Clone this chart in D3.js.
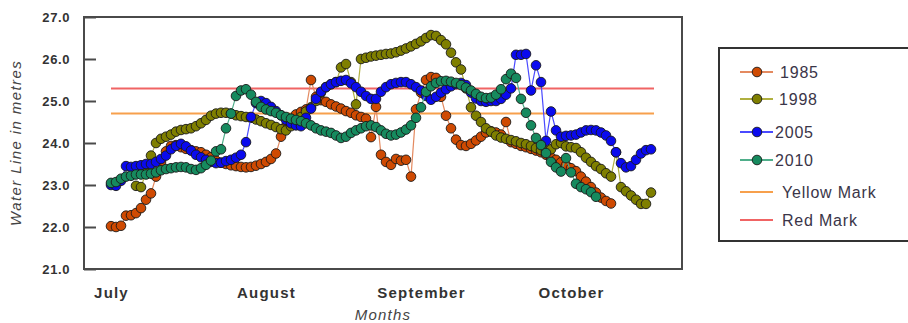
<!DOCTYPE html>
<html>
<head>
<meta charset="utf-8">
<script src="https://cdn.jsdelivr.net/npm/d3@7"></script>
<style>
  html, body { margin: 0; padding: 0; background: #fff; }
  svg { display: block; }
  text { font-family: Arial, "Liberation Sans", sans-serif; }
</style>
</head>
<body>
<svg id="chart" width="908" height="323"></svg>
<script>
// ---- data (daily readings, index 0 = 1 July) ----
const monthLabels = ["July", "August", "September", "October"];
const monthStartDays = [0, 31, 62, 92];
const yTicks = [21, 22, 23, 24, 25, 26, 27];

const seriesNames = ["1985", "1998", "2005", "2010"];

const v1985 = [22.02, 22.0, 22.03, 22.27, 22.28, 22.33, 22.45, 22.65, 22.8, 23.2,
  23.55, 23.8, 23.93, 23.95, 23.9, 23.86, 23.83, 23.8, 23.78, 23.72,
  23.66, 23.58, 23.53, 23.5, 23.47, 23.45, 23.43, 23.42, 23.43, 23.46,
  23.5, 23.55, 23.62, 23.75, 24.15, 24.4, 24.55, 24.68, 24.74, 24.8,
  25.5, 25.1, 25.02, 24.98, 24.92, 24.87, 24.82, 24.76, 24.72, 24.66,
  24.62, 24.58, 24.14, 24.86, 23.72, 23.55, 23.48, 23.62, 23.58, 23.6,
  23.2, 24.8, 25.2, 25.5, 25.57, 25.55, 25.1, 24.65, 24.35, 24.08,
  23.95, 23.93, 23.98, 24.06, 24.15, 24.25, 24.28, 24.25, 24.2, 24.5,
  24.02, 23.98, 23.93, 23.9, 23.86, 23.82, 23.78, 23.72, 23.66, 23.6,
  23.54, 23.47, 23.4, 23.33, 23.2, 23.08, 22.95, 22.82, 22.7, 22.62, 22.56];

const v1998 = [null, null, null, null, null, 22.98, 22.95, 23.3, 23.7, 24.0,
  24.1, 24.15, 24.2, 24.27, 24.31, 24.33, 24.35, 24.4, 24.47, 24.55,
  24.65, 24.7, 24.72, 24.72, 24.7, 24.66, 24.64, 24.62, 24.6, 24.56,
  24.52, 24.47, 24.43, 24.38, 24.33, 24.3, 24.4, 24.5, 24.62, 24.75,
  24.85, 25.0, 25.2, 25.33, 25.4, 25.45, 25.8, 25.88, 25.45, 24.92,
  26.0, 26.03, 26.06, 26.08, 26.1, 26.12, 26.13, 26.16, 26.2, 26.25,
  26.3, 26.36, 26.42, 26.5, 26.57, 26.55, 26.45, 26.35, 26.15, 25.92,
  25.75, 25.3, 24.85, 24.65, 24.5, 24.35, 24.27, 24.18, 24.13, 24.1,
  24.07, 24.04, 24.0, 23.97, 23.93, 23.88, 23.83, 23.8, 23.85, 23.97,
  24.0, 23.92, 23.9, 23.88, 23.78, 23.65, 23.55, 23.45, 23.38, 23.28,
  23.2, 23.78, 22.95, 22.85, 22.75, 22.65, 22.55, 22.55, 22.82];

const v2005 = [23.0, 22.98, 23.1, 23.45, 23.43, 23.45, 23.47, 23.5, 23.5, 23.55,
  23.62, 23.7, 23.85, 23.93, 23.98, 23.92, 23.82, 23.72, 23.66, 23.6,
  23.55, 23.52, 23.53, 23.57, 23.6, 23.65, 23.72, 24.02, 24.62, 24.95,
  25.0, 24.95, 24.86, 24.76, 24.66, 24.55, 24.47, 24.42, 24.4, 24.6,
  24.82, 25.05, 25.22, 25.33, 25.4, 25.45, 25.48, 25.5, 25.42, 25.33,
  25.22, 25.12, 25.05, 25.05, 25.22, 25.33, 25.4, 25.43, 25.45, 25.45,
  25.4, 25.33, 25.25, 25.12, 25.03, 25.1, 25.2, 25.28, 25.35, 25.4,
  25.43, 25.38, 25.2, 25.06, 25.0, 24.98, 25.0, 25.0, 25.05, 25.15,
  25.3, 26.1, 26.1, 26.12, 25.25, 25.85, 25.45, 24.05, 24.75, 24.3,
  24.15, 24.17, 24.18, 24.2, 24.25, 24.3, 24.31, 24.3, 24.25, 24.18,
  24.05, 23.78, 23.52, 23.42, 23.45, 23.6, 23.75, 23.83, 23.85];

const v2010 = [23.05, 23.07, 23.15, 23.2, 23.22, 23.25, 23.25, 23.25, 23.27, 23.3,
  23.35, 23.38, 23.4, 23.42, 23.43, 23.42, 23.38, 23.36, 23.4, 23.48,
  23.58, 23.8, 23.85, 24.35, 24.7, 25.12, 25.25, 25.28, 25.15, 24.98,
  24.86, 24.8, 24.76, 24.72, 24.66, 24.62, 24.58, 24.55, 24.52, 24.47,
  24.42, 24.35, 24.3, 24.27, 24.24, 24.18, 24.12, 24.15, 24.24, 24.3,
  24.35, 24.4, 24.42, 24.38, 24.3, 24.22, 24.18, 24.2, 24.25, 24.32,
  24.42, 24.6, 24.85, 25.22, 25.35, 25.43, 25.47, 25.48, 25.46, 25.43,
  25.38, 25.32, 25.25, 25.17, 25.1, 25.07, 25.08, 25.15, 25.28, 25.52,
  25.65, 25.55, 25.05, 24.72, 24.42, 24.12, 23.95, 23.76, 23.55, 23.42,
  23.32, 23.64, 23.3, 23.03, 22.95, 22.9, 22.83, 22.72];

const yellowMark = 24.7;
const redMark = 25.3;
const markDays = [0, 108.6];

// ---- styling ----
const markerFill = ["#cf4a02", "#7f7f00", "#0a0aee", "#168a5e"];
const lineColor  = ["#e48a60", "#b0b040", "#4a4aff", "#4fae8a"];
const yellowColor = "#f7a04c";
const redColor = "#f06464";

const svg = d3.select("#chart");
const M = { left: 84, right: 682, top: 17, bottom: 269 };

const x = d3.scaleLinear().domain([-5.4, 114.2]).range([M.left, M.right]);
const y = d3.scaleLinear().domain([21, 27]).range([M.bottom, M.top]);

// frame
svg.append("rect")
  .attr("x", M.left).attr("y", M.top)
  .attr("width", M.right - M.left).attr("height", M.bottom - M.top)
  .attr("fill", "#fff").attr("stroke", "#4a4a4a").attr("stroke-width", 2);

// y axis
const yAxis = svg.append("g")
  .attr("transform", `translate(${M.left},0)`)
  .call(d3.axisLeft(y).tickValues(yTicks).tickFormat(d3.format(".1f"))
    .tickSizeInner(-12).tickSizeOuter(0).tickPadding(14));
yAxis.select(".domain").remove();
yAxis.selectAll("line").attr("stroke", "#4a4a4a").attr("stroke-width", 2);
yAxis.selectAll("text")
  .attr("fill", "#333").style("font-size", "13px").style("font-weight", "bold")
  .style("letter-spacing", "0.6px");

// x axis (month labels)
const xAxis = svg.append("g")
  .attr("transform", `translate(0,${M.bottom})`)
  .call(d3.axisBottom(x).tickValues(monthStartDays)
    .tickFormat((d, i) => monthLabels[i]).tickSize(0).tickPadding(18));
xAxis.select(".domain").remove();
xAxis.selectAll("text")
  .attr("fill", "#333").style("font-size", "15px").style("font-weight", "bold")
  .style("letter-spacing", "1.2px");

// axis titles
svg.append("text")
  .attr("x", 383).attr("y", 320)
  .attr("text-anchor", "middle")
  .attr("fill", "#444")
  .style("font-size", "15px").style("font-style", "italic").style("letter-spacing", "1.2px")
  .text("Months");

svg.append("text")
  .attr("transform", "translate(21,143) rotate(-90)")
  .attr("text-anchor", "middle")
  .attr("fill", "#444")
  .style("font-size", "15px").style("font-style", "italic").style("letter-spacing", "1.4px")
  .text("Water Line in metres");

// mark lines
const markLine = d3.line().x(d => x(d[0])).y(d => y(d[1]));
svg.append("path")
  .attr("d", markLine(markDays.map(d => [d, yellowMark])))
  .attr("stroke", yellowColor).attr("stroke-width", 2).attr("fill", "none");
svg.append("path")
  .attr("d", markLine(markDays.map(d => [d, redMark])))
  .attr("stroke", redColor).attr("stroke-width", 2).attr("fill", "none");

// series
const allSeries = [v1985, v1998, v2005, v2010];
const line = d3.line()
  .defined(d => d[1] != null)
  .x(d => x(d[0])).y(d => y(d[1]));

allSeries.forEach((vals, si) => {
  const pts = vals.map((v, i) => [i, v]);
  const g = svg.append("g");
  g.append("path")
    .attr("d", line(pts))
    .attr("fill", "none").attr("stroke", lineColor[si]).attr("stroke-width", 1.2);
  g.selectAll("circle")
    .data(pts.filter(d => d[1] != null))
    .join("circle")
    .attr("cx", d => x(d[0])).attr("cy", d => y(d[1]))
    .attr("r", 4.8)
    .attr("fill", markerFill[si])
    .attr("stroke", "#1a1a1a").attr("stroke-width", 0.9);
});

// legend
const legend = svg.append("g");
legend.append("rect")
  .attr("x", 719).attr("y", 48).attr("width", 200).attr("height", 193)
  .attr("fill", "#fff").attr("stroke", "#333").attr("stroke-width", 2);

const legendItems = [
  { label: "1985", y: 72, color: lineColor[0], fill: markerFill[0], tx: 780 },
  { label: "1998", y: 99, color: lineColor[1], fill: markerFill[1], tx: 779 },
  { label: "2005", y: 132, color: lineColor[2], fill: markerFill[2], tx: 775 },
  { label: "2010", y: 160, color: lineColor[3], fill: markerFill[3], tx: 775 },
  { label: "Yellow Mark", y: 192, color: yellowColor, fill: null, tx: 782 },
  { label: "Red Mark", y: 220, color: redColor, fill: null, tx: 782 }
];
legendItems.forEach(it => {
  legend.append("line")
    .attr("x1", 740).attr("x2", 773).attr("y1", it.y).attr("y2", it.y)
    .attr("stroke", it.color).attr("stroke-width", 2);
  if (it.fill) {
    legend.append("circle")
      .attr("cx", 757).attr("cy", it.y).attr("r", 4.8)
      .attr("fill", it.fill).attr("stroke", "#1a1a1a").attr("stroke-width", 0.9);
  }
  legend.append("text")
    .attr("x", it.tx).attr("y", it.y).attr("dy", "0.36em")
    .attr("fill", "#3a3548")
    .style("font-size", "16px").style("letter-spacing", "0.8px")
    .text(it.label);
});
</script>
</body>
</html>
